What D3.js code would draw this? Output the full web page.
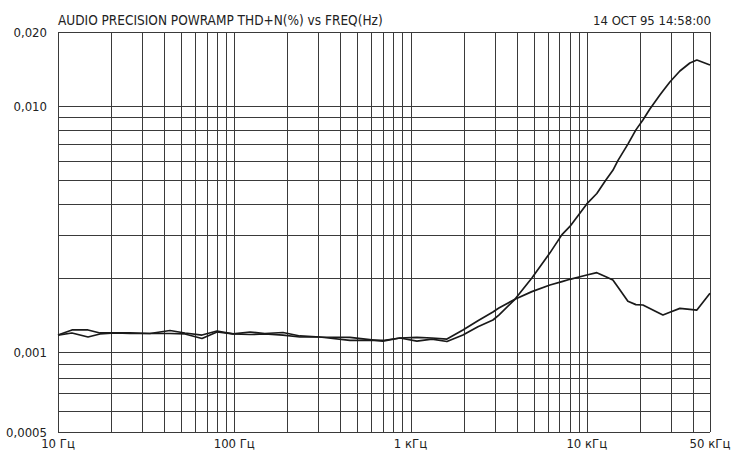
<!DOCTYPE html>
<html>
<head>
<meta charset="utf-8">
<script src="https://cdn.jsdelivr.net/npm/d3@7/dist/d3.min.js"></script>
<style>
  html, body { margin: 0; padding: 0; background: #fff; }
  svg { display: block; }
  text { font-family: "Liberation Sans Narrow", "DejaVu Sans Condensed", "Liberation Sans", sans-serif; fill: #222; }
</style>
</head>
<body>
<svg id="chart" width="734" height="454"></svg>
<script>
// Sweep frequencies (Hz)
const freqHz = [10, 12, 14.8, 17.3, 21, 25.6, 33.2, 43.2, 52.5, 65.6, 79.8, 98.3, 123, 149, 189, 236, 306, 453, 697, 871,
  1087, 1323, 1609, 1983, 2412, 2934, 3170, 3910, 4880, 6180, 7230, 8020, 10000, 11400, 12830, 14060, 15010, 17110,
  18990, 20810, 22800, 25980, 27030, 29600, 33740, 38440, 42130, 50000];

// THD+N (%) — channel that rises steeply above 2 kHz
const thdA = [0.001172, 0.001229, 0.001229, 0.001195, 0.001195, 0.001195, 0.001189, 0.001223, 0.001195, 0.001172,
  0.001217, 0.001184, 0.001206, 0.001189, 0.001200, 0.001162, 0.001151, 0.001146, 0.001108, 0.001140,
  0.001108, 0.001129, 0.001103, 0.001172, 0.001267, 0.001349, 0.001413, 0.001638, 0.00200, 0.00253, 0.00300,
  0.00324, 0.00400, 0.00441, 0.00500, 0.00548, 0.00600, 0.00700,
  0.00800, 0.00877, 0.00972, 0.01108, 0.01151, 0.01252, 0.01388, 0.01496, 0.01538, 0.01468];

// THD+N (%) — channel that levels off near 0.002
const thdB = [0.001172, 0.001195, 0.001151, 0.001184, 0.001195, 0.001189, 0.001189, 0.001189, 0.001184, 0.001135,
  0.001206, 0.001184, 0.001178, 0.001184, 0.001172, 0.001151, 0.001151, 0.001114, 0.001114, 0.001140,
  0.001146, 0.001140, 0.001129, 0.001229, 0.001340, 0.001454, 0.001509, 0.001638, 0.001760, 0.001873, 0.001932,
  0.001975, 0.002056, 0.002101, 0.002022, 0.001962, 0.001837, 0.001609,
  0.001558, 0.001553, 0.001503, 0.001434, 0.001414, 0.001451, 0.001505, 0.001491, 0.001481, 0.001732];

const yTickValues = [0.0005, 0.001, 0.010, 0.020];
const yTickLabels = ["0,0005", "0,001", "0,010", "0,020"];
const xTickValues = [10, 100, 1000, 10000, 50000];
const xTickLabels = ["10 Гц", "100 Гц", "1 кГц", "10 кГц", "50 кГц"];
const titleText = "AUDIO PRECISION POWRAMP THD+N(%) vs FREQ(Hz)";
const stampText = "14 OCT 95 14:58:00";

const plot = { left: 58, right: 710, top: 32, bottom: 432, lowBand: 80 };

const svg = d3.select("#chart");

const x = d3.scaleLog().domain([10, 50000]).range([plot.left, plot.right]);
// Lower half-decade (0.0005–0.001) is drawn slightly taller than the decades above it
const y = d3.scaleLog()
  .domain([0.0005, 0.001, 0.020])
  .range([plot.bottom, plot.bottom - plot.lowBand, plot.top]);

const px = v => Math.round(v) + 0.5;

// Vertical grid: 1..9 within each decade
const xGrid = [];
[10, 100, 1000, 10000].forEach(d => {
  for (let m = 1; m <= 9; m++) { const f = d * m; if (f <= 50000) xGrid.push(f); }
});
xGrid.push(50000);

// Horizontal grid: 0.0006..0.0009 and 0.001..0.010, plus the frame edges
const yGrid = [0.0005, 0.0006, 0.0007, 0.0008, 0.0009];
for (let m = 1; m <= 10; m++) yGrid.push(m / 1000);
yGrid.push(0.020);

const grid = svg.append("g").attr("stroke", "#3a3a3a").attr("stroke-width", 1);
grid.selectAll("line.v").data(xGrid).join("line")
  .attr("class", "v")
  .attr("x1", d => px(x(d))).attr("x2", d => px(x(d)))
  .attr("y1", y(0.020)).attr("y2", y(0.0005));
grid.selectAll("line.h").data(yGrid).join("line")
  .attr("class", "h")
  .attr("x1", x(10)).attr("x2", x(50000))
  .attr("y1", d => px(y(d))).attr("y2", d => px(y(d)));

// Curves
const line = d3.line()
  .x((d, i) => x(freqHz[i]))
  .y(d => y(d));

[thdA, thdB].forEach(series => {
  svg.append("path")
    .datum(series)
    .attr("fill", "none")
    .attr("stroke", "#1a1a1a")
    .attr("stroke-width", 1.7)
    .attr("stroke-linejoin", "round")
    .attr("d", line);
});

// Y labels
svg.append("g").selectAll("text").data(yTickValues).join("text")
  .attr("x", plot.left - 11)
  .attr("y", d => y(d))
  .attr("dy", "0.35em")
  .attr("text-anchor", "end")
  .attr("font-size", 13)
  .text((d, i) => yTickLabels[i]);

// X labels
svg.append("g").selectAll("text").data(xTickValues).join("text")
  .attr("x", d => x(d))
  .attr("y", plot.bottom + 16)
  .attr("text-anchor", "middle")
  .attr("font-size", 13)
  .text((d, i) => xTickLabels[i]);

// Header
svg.append("text")
  .attr("x", plot.left)
  .attr("y", plot.top - 7)
  .attr("font-size", 13.5)
  .text(titleText);
svg.append("text")
  .attr("x", plot.right + 1)
  .attr("y", plot.top - 7)
  .attr("text-anchor", "end")
  .attr("font-size", 13)
  .text(stampText);
</script>
</body>
</html>
